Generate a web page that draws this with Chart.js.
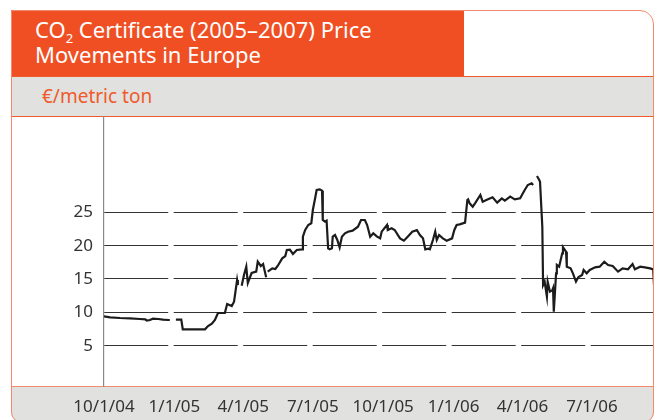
<!DOCTYPE html>
<html>
<head>
<meta charset="utf-8">
<script src="https://cdn.jsdelivr.net/npm/chart.js@4/dist/chart.umd.min.js"></script>
<style>
  body { margin: 0; width: 657px; height: 420px; overflow: hidden; background: #fff; font-family: "Noto Sans", sans-serif; }
  .box { position: absolute; box-sizing: border-box; }
  #header { left: 11px; top: 10px; width: 453px; height: 67px; background: #f04f23; color: #fff;
            font-size: 22px; line-height: 25px; padding: 7px 0 0 24px; }
  #header sub { font-size: 13px; vertical-align: baseline; position: relative; top: 5px; line-height: 0; }
  #unitBand { left: 11px; top: 76px; width: 643px; height: 41px; background: #e1e1df;
              border-top: 1.5px solid #f05a2a; border-bottom: 1.5px solid #f05a2a; }
  #unit { left: 42px; top: 86px; font-size: 19px; line-height: 20px; color: #f05a2a; }
  #axisBand { left: 11px; top: 385.5px; width: 643px; height: 37px; background: #e1e1df;
              border-top: 1.5px solid #f28a6c; border-radius: 0 0 11px 11px; }
  #frame { left: 11px; top: 10px; width: 643px; height: 412.5px; border: 1.5px solid #f3896d;
           border-radius: 0 14px 11px 11px; pointer-events: none; }
  #chartWrap { left: 0; top: 116px; width: 657px; height: 306px; }
</style>
</head>
<body>
<div id="header" class="box">CO<sub>2</sub> Certificate (2005–2007) Price<br>Movements in Europe</div>
<div id="unitBand" class="box"></div>
<div id="unit" class="box">€/metric ton</div>
<div id="axisBand" class="box"></div>
<div id="chartWrap" class="box"><canvas id="co2Chart" width="657" height="306"></canvas></div>
<div id="frame" class="box"></div>

<script>
// days since 1 Oct 2004 and price in €/metric ton (null = no quote)
const priceDays = [
  0, 8, 21, 34, 47, 54, 56, 60, 64, 71, 77, 84, 86, 88,
  94, 101, 103, 119, 132, 136, 141, 145, 149, 158, 161, 167, 170, 174, 175, 177,
  180, 183, 186, 188, 193, 199, 201, 205, 208, 212, 213,
  214, 220, 224, 227, 233, 237, 239, 243, 247, 252, 259, 260, 263, 267, 271,
  273, 276, 278, 282, 285, 286, 289, 291, 293, 295, 298, 299, 302, 305, 308,
  311, 315, 319, 325, 332, 336, 341, 344, 348, 352, 357, 361, 363, 370, 371,
  376, 380, 387, 392, 397, 403, 409, 413, 417, 420, 424, 426, 430, 433, 435,
  438, 443, 448, 455, 458, 461, 465, 472, 475, 476, 478, 482, 485, 492, 495,
  502, 508, 514, 520, 524, 531, 537, 544, 550, 554, 559, 561, 562,
  566, 569, 570, 573, 574, 576, 579, 580, 583, 586, 587, 588, 591, 592, 595,
  599, 600, 604, 605, 610, 613, 617, 620, 625, 627, 631, 635, 642, 648, 654,
  659, 665, 672, 678, 685, 691, 694, 701, 707, 714, 718, 719
];
const prices = [
  9.4, 9.25, 9.15, 9.1, 9.0, 8.95, 8.75, 8.85, 9.05, 9.0, 8.9, 8.85, 8.85, null,
  8.9, 8.9, 7.45, 7.45, 7.45, 7.95, 8.3, 8.85, 9.9, 9.9, 11.25, 10.95, 11.6, 14.85, 14.1, null,
  14.0, 15.6, 16.85, 14.4, 15.9, 16.1, 17.6, 16.95, 17.25, 15.25, null,
  16.1, 16.6, 16.5, 16.95, 18.1, 18.45, 19.35, 19.4, 18.75, 19.35, 19.45, 21.35, 22.35, 23.1, 23.35,
  25.35, 27.1, 28.35, 28.45, 28.25, 23.85, 23.6, 23.75, 19.6, 19.45, 19.6, 21.35, 21.6, 20.85, 19.75,
  21.35, 21.85, 22.1, 22.25, 22.85, 23.85, 23.85, 23.1, 21.35, 21.85, 21.35, 21.1, 22.1, 23.1, 22.35,
  22.6, 22.35, 21.1, 20.75, 21.35, 22.1, 22.35, 21.6, 21.1, 19.45, 19.55, 19.45, 20.85, 22.1, 20.85,
  21.6, 21.1, 20.75, 21.1, 22.35, 23.1, 23.2, 23.45, 26.85, 26.95, 26.35, 25.85, 26.35, 27.6, 26.6,
  26.95, 27.25, 26.45, 27.1, 26.75, 27.35, 26.95, 27.1, 28.35, 29.1, 29.35, 29.1, null,
  30.45, 29.85, 29.6, 22.85, 14.1, 14.6, 12.35, 14.6, 13.1, 13.3, 13.6, 10.1, 15.85, 17.1, 16.85,
  18.85, 19.75, 19.1, 16.85, 16.6, 15.85, 14.6, 15.25, 15.6, 16.35, 15.85, 16.35, 16.75, 16.85, 17.6,
  17.1, 16.95, 16.1, 16.6, 16.45, 17.25, 16.45, 16.85, 16.75, 16.6, 16.45, 14.1
];
const quarterDays = [0, 92, 182, 273, 365, 457, 547, 638];
const quarterLabels = ['10/1/04', '1/1/05', '4/1/05', '7/1/05', '10/1/05', '1/1/06', '4/1/06', '7/1/06'];
const yTickValues = [5, 10, 15, 20, 25];

const tickFont = { family: '"Noto Sans", sans-serif', size: 17 };

new Chart(document.getElementById('co2Chart'), {
  type: 'line',
  data: {
    datasets: [{
      data: priceDays.map((d, i) => ({ x: d, y: prices[i] })),
      borderColor: '#1c1c1c',
      borderWidth: 2.2,
      pointRadius: 0,
      tension: 0,
      spanGaps: false
    }]
  },
  options: {
    responsive: false,
    devicePixelRatio: 1,
    animation: false,
    layout: { padding: { left: 0, right: 3, top: 0, bottom: 0 } },
    plugins: { legend: { display: false }, tooltip: { enabled: false } },
    scales: {
      x: {
        type: 'linear',
        min: 0,
        max: 719,
        afterBuildTicks: axis => { axis.ticks = quarterDays.map(v => ({ value: v })); },
        afterFit: axis => { axis.height = 36; axis.paddingLeft = 0; axis.paddingRight = 0; },
        grid: { display: false, drawTicks: false },
        border: { display: false },
        ticks: {
          autoSkip: false,
          maxRotation: 0,
          padding: 11,
          color: '#333',
          font: tickFont,
          callback: (v) => quarterLabels[quarterDays.indexOf(v)]
        }
      },
      y: {
        min: -1.05,
        max: 39.45,
        afterBuildTicks: axis => { axis.ticks = yTickValues.map(v => ({ value: v })); },
        afterFit: axis => { axis.width = 104; axis.paddingTop = 0; axis.paddingBottom = 0; },
        grid: { color: '#333', lineWidth: 1, drawTicks: false },
        border: { color: '#8a8a8a', width: 1.2, dash: [64, 5.5] },
        ticks: { padding: 11, color: '#333', font: tickFont }
      }
    }
  }
});
</script>
</body>
</html>
